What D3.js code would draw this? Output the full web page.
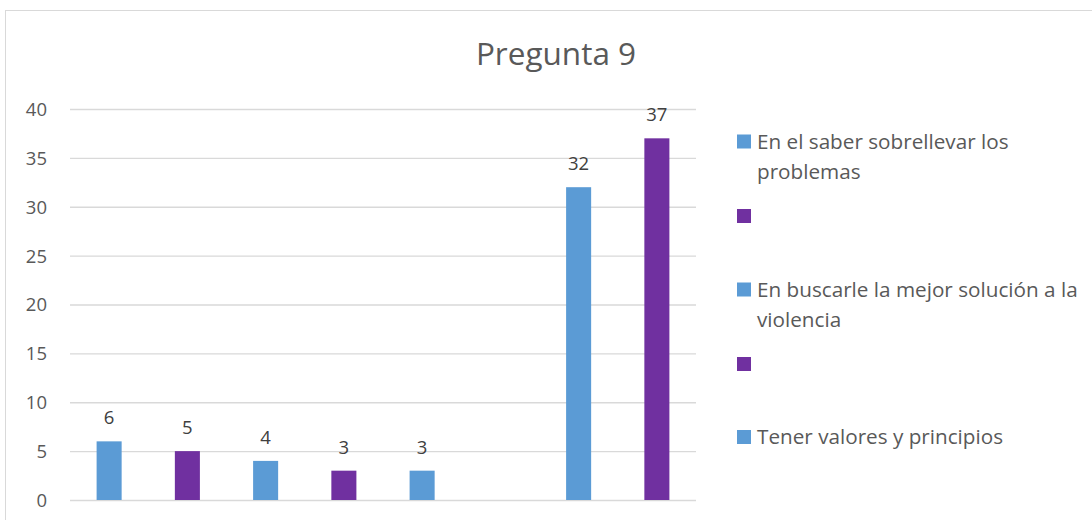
<!DOCTYPE html>
<html><head><meta charset="utf-8">
<script src="https://cdn.jsdelivr.net/npm/d3@7"></script>
<style>body{margin:0;background:#fff}svg{display:block}text{font-family:"Open Sans",sans-serif}</style>
</head><body><svg width="1092" height="520"></svg>
<script>
const categories = ["c1","c2","c3","c4","c5","c6","c7","c8"];
const values = [6,5,4,3,3,null,32,37];
const barColors = ["#5B9BD5","#7030A0","#5B9BD5","#7030A0","#5B9BD5","#7030A0","#5B9BD5","#7030A0"];
const yTicks = [0,5,10,15,20,25,30,35,40];
const legendLabels = [["En el saber sobrellevar los","problemas"],[""],["En buscarle la mejor solución a la","violencia"],[""],["Tener valores y principios"]];
const legendColors = ["#5B9BD5","#7030A0","#5B9BD5","#7030A0","#5B9BD5"];
const legendY = [141.5,216,289.5,364,437];

const svg = d3.select("svg");
svg.append("rect").attr("x",5.5).attr("y",10.5).attr("width",1200).attr("height",600)
  .attr("fill","#fff").attr("stroke","#d9d9d9");

const x = d3.scaleBand().domain(categories).range([70,696]).paddingInner(0.68).paddingOuter(0.34);
const y = d3.scaleLinear().domain([0,40]).range([500,109]);

svg.append("text").attr("x",556).attr("y",65).attr("text-anchor","middle")
  .attr("font-size",31.5).attr("fill","#595959").text("Pregunta 9");

const yAxis = d3.axisLeft(y).tickValues(yTicks).tickSize(-(696-70)).tickPadding(23);
const g = svg.append("g").attr("transform","translate(70,0)").call(yAxis);
g.select(".domain").remove();
g.selectAll(".tick line").attr("stroke","#d9d9d9").attr("stroke-width",1.3);
g.selectAll(".tick text").attr("fill","#595959").attr("font-size",18.5).attr("dy","0.35em").attr("font-family","Open Sans");

const data = categories.map((c,i)=>({c,v:values[i],col:barColors[i]})).filter(d=>d.v!=null);
svg.selectAll(".bar").data(data).enter().append("rect")
  .attr("x",d=>x(d.c)).attr("width",x.bandwidth())
  .attr("y",d=>y(d.v)).attr("height",d=>y(0)-y(d.v)).attr("fill",d=>d.col);
svg.selectAll(".lbl").data(data).enter().append("text")
  .attr("x",d=>x(d.c)+x.bandwidth()/2).attr("y",d=>y(d.v)-17)
  .attr("text-anchor","middle").attr("font-size",18.5).attr("fill","#404040").text(d=>d.v);

const lg = svg.selectAll(".lg").data(legendLabels).enter().append("g")
  .attr("transform",(d,i)=>`translate(737,${legendY[i]})`);
lg.append("rect").attr("x",0).attr("y",-7).attr("width",14).attr("height",14).attr("fill",(d,i)=>legendColors[i]);
lg.each(function(d){
  const t = d3.select(this);
  d.forEach((line,j)=>{
    t.append("text").attr("x",20).attr("y",j*30).attr("dy","0.35em")
     .attr("font-size",20.7).attr("fill","#595959").text(line);
  });
});
</script></body></html>
